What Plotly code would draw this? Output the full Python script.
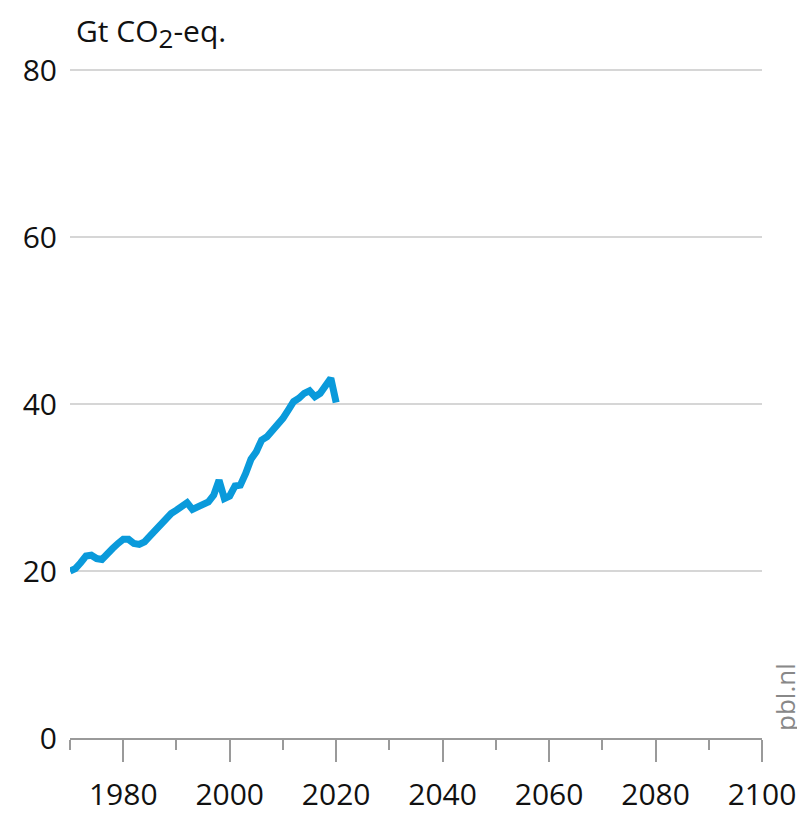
import plotly.graph_objects as go

years = list(range(1970, 2021))
emissions = [20.0, 20.3, 21.0, 21.8, 21.9, 21.5, 21.4, 22.2, 22.7, 23.3,
             23.8, 23.8, 23.3, 23.2, 23.5, 24.2, 24.9, 25.4, 26.1, 26.9,
             27.3, 27.7, 28.2, 27.4, 27.7, 27.9, 28.3, 29.1, 30.9, 28.7,
             29.0, 30.2, 30.3, 31.7, 33.4, 34.3, 35.7, 36.1, 36.8, 37.4,
             38.3, 39.3, 40.3, 40.7, 41.3, 41.6, 40.9, 41.3, 42.1, 43.1,
             40.2]
y_ticks = [0, 20, 40, 60, 80]
x_ticks = [1980, 2000, 2020, 2040, 2060, 2080, 2100]

FONT = "Open Sans"

fig = go.Figure()
fig.add_trace(go.Scatter(x=years, y=emissions, mode="lines",
                         line=dict(color="#0A9ADB", width=7),
                         hoverinfo="skip", showlegend=False))

fig.update_layout(
    width=805, height=816,
    margin=dict(l=62, r=51, t=59, b=86),
    plot_bgcolor="white", paper_bgcolor="white",
    font=dict(family=FONT, color="#111111", size=28),
    xaxis=dict(range=[1970, 2100], tickvals=x_ticks,
               ticks="outside", ticklen=22, tickwidth=1.5, tickcolor="#9a9a9a",
               minor=dict(dtick=10, tick0=1970, ticks="outside", ticklen=10,
                          tickwidth=1.5, tickcolor="#9a9a9a", showgrid=False),
               showgrid=False, showline=True, linecolor="#9a9a9a", linewidth=2,
               zeroline=False, ticklabelstandoff=7, automargin=False,
               tickfont=dict(size=30, family=FONT, color="#111111")),
    yaxis=dict(range=[0, 80.4], tickvals=y_ticks, showgrid=True,
               gridcolor="#d6d6d6", gridwidth=2, zeroline=False,
               showline=False, ticks="", ticklabelstandoff=12,
               tickfont=dict(size=30, family=FONT, color="#111111")),
    annotations=[
        dict(text="Gt CO<sub><span style='font-size:26px'>2</span></sub>-eq.",
             xref="paper", yref="paper",
             x=0, y=1, xshift=4, yshift=34, xanchor="left", yanchor="middle",
             showarrow=False, font=dict(size=30, family=FONT, color="#111111")),
        dict(text="pbl.nl", xref="paper", yref="paper", x=1, y=0,
             xshift=23, yshift=41, xanchor="center", yanchor="middle",
             textangle=-90, showarrow=False,
             font=dict(size=26, family=FONT, color="#888888")),
    ],
)

fig.write_html("out.html")
